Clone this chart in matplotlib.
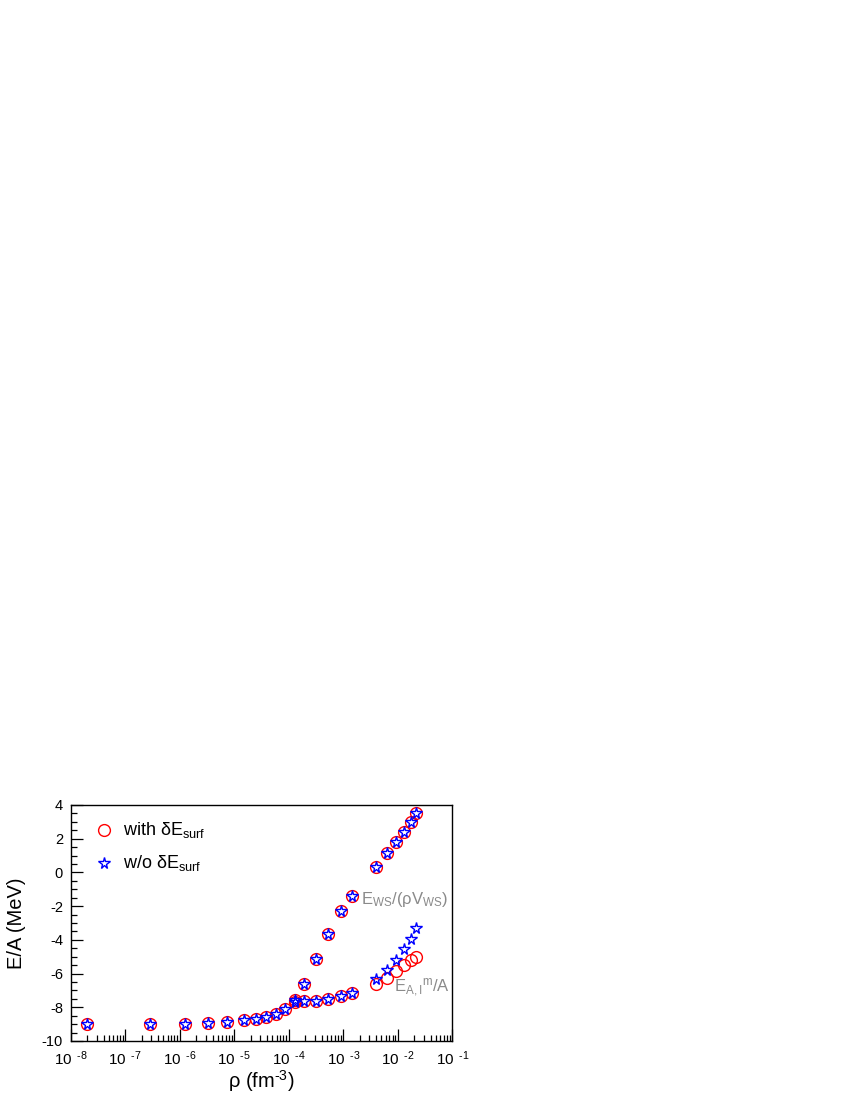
import numpy as np
import matplotlib
matplotlib.use("Agg")
import matplotlib.pyplot as plt
from matplotlib.ticker import LogLocator, MultipleLocator, FixedLocator, NullFormatter

plt.rcParams['font.family'] = ['Liberation Sans', 'DejaVu Sans']
plt.rcParams['mathtext.fontset'] = 'custom'
plt.rcParams['mathtext.rm'] = 'Liberation Sans'
plt.rcParams['mathtext.it'] = 'Liberation Sans:italic'
plt.rcParams['axes.unicode_minus'] = False

# low density part: both branches coincide
rho_low = [2.02e-8, 2.81e-7, 1.27e-6, 3.34e-6, 7.36e-6, 1.49e-5,
           2.47e-5, 3.87e-5, 5.90e-5, 8.63e-5]
e_low = [-8.97, -8.97, -8.97, -8.93, -8.85, -8.77, -8.69, -8.57, -8.38, -8.10]

# higher densities: two branches
rho_high = [1.28e-4, 1.93e-4, 3.16e-4, 5.31e-4, 8.93e-4, 1.46e-3,
            3.97e-3, 6.41e-3, 9.38e-3, 1.32e-2, 1.72e-2, 2.15e-2]
# E_WS/(rho V_WS)
ews_with = [-7.54, -6.59, -5.13, -3.66, -2.28, -1.41, 0.34, 1.17, 1.82, 2.42, 2.99, 3.50]
ews_wo = [-7.54, -6.59, -5.13, -3.66, -2.28, -1.41, 0.34, 1.17, 1.82, 2.42, 2.99, 3.50]
# E_A,I^m / A
eai_with = [-7.70, -7.64, -7.60, -7.52, -7.35, -7.15, -6.59, -6.24, -5.86, -5.50, -5.21, -5.01]
eai_wo = [-7.70, -7.64, -7.60, -7.52, -7.35, -7.15, -6.32, -5.76, -5.17, -4.55, -3.96, -3.27]

xticks = [1e-8, 1e-7, 1e-6, 1e-5, 1e-4, 1e-3, 1e-2, 1e-1]
xexps = ['-8', '-7', '-6', '-5', '-4', '-3', '-2', '-1']
xticklabels = ['10$^{\\ \\;\\text{%s}}$' % e for e in xexps]

fig = plt.figure(figsize=(8.5, 11), dpi=100)
ax = fig.add_axes([70.7 / 850, 1 - 1041 / 1100, 381.6 / 850, 236 / 1100])

circ = dict(marker='o', ms=8.5, mfc='none', mec='red', mew=1.0, ls='none')
star = dict(marker='*', ms=8.5, mfc='none', mec='blue', mew=1.0, ls='none')

ax.plot(rho_low, e_low, **circ)
ax.plot(rho_high, ews_with, **circ)
ax.plot(rho_high, eai_with, **circ)
ax.plot(rho_low, e_low, **star)
ax.plot(rho_high, ews_wo, **star)
ax.plot(rho_high, eai_wo, **star)

ax.set_xscale('log')
ax.set_xlim(1e-8, 1e-1)
ax.set_ylim(-10, 4)
ax.xaxis.set_major_locator(FixedLocator(xticks))
ax.set_xticklabels(xticklabels)
ax.xaxis.set_minor_locator(LogLocator(base=10, subs=np.arange(2, 10), numticks=20))
ax.xaxis.set_minor_formatter(NullFormatter())
ax.yaxis.set_major_locator(MultipleLocator(2))
ax.yaxis.set_minor_locator(MultipleLocator(0.5))

ax.tick_params(which='both', direction='in', top=False, right=False, labelsize=10.5, width=0.9)
ax.tick_params(which='major', length=8.5)
ax.tick_params(which='minor', length=4.3)
ax.tick_params(axis='x', pad=6, labelsize=11)
ax.tick_params(axis='y', pad=5.5)
for s in ax.spines.values():
    s.set_linewidth(1.0)

# legend (drawn by hand, ROOT style)
ax.plot([0.087], [0.894], transform=ax.transAxes, clip_on=False, **circ)
ax.text(0.136, 0.894, 'with δE$_{\\mathregular{surf}}$', transform=ax.transAxes,
        fontsize=13, va='center', ha='left')
ax.plot([0.087], [0.754], transform=ax.transAxes, clip_on=False, **star)
ax.text(0.136, 0.754, 'w/o δE$_{\\mathregular{surf}}$', transform=ax.transAxes,
        fontsize=13, va='center', ha='left')

ax.text(10**-2.674, -1.63, 'E$_{\\mathregular{WS}}$/(ρV$_{\\mathregular{WS}}$)',
        color='#8a8a8a', fontsize=12, va='center', ha='left')
ax.text(10**-2.069, -6.85, 'E$_{\\mathregular{A,I}}$$^{\\mathregular{m}}$/A',
        color='#8a8a8a', fontsize=12, va='center', ha='left')

fig.text(17 / 850, 1 - 923 / 1100, 'E/A (MeV)', rotation=90, fontsize=14.5,
         ha='center', va='center')
fig.text(261 / 850, 1 - 1081 / 1100, 'ρ (fm$^{\\text{-3}}$)', fontsize=14.5,
         ha='center', va='center')

fig.savefig('out.png', dpi=100)
